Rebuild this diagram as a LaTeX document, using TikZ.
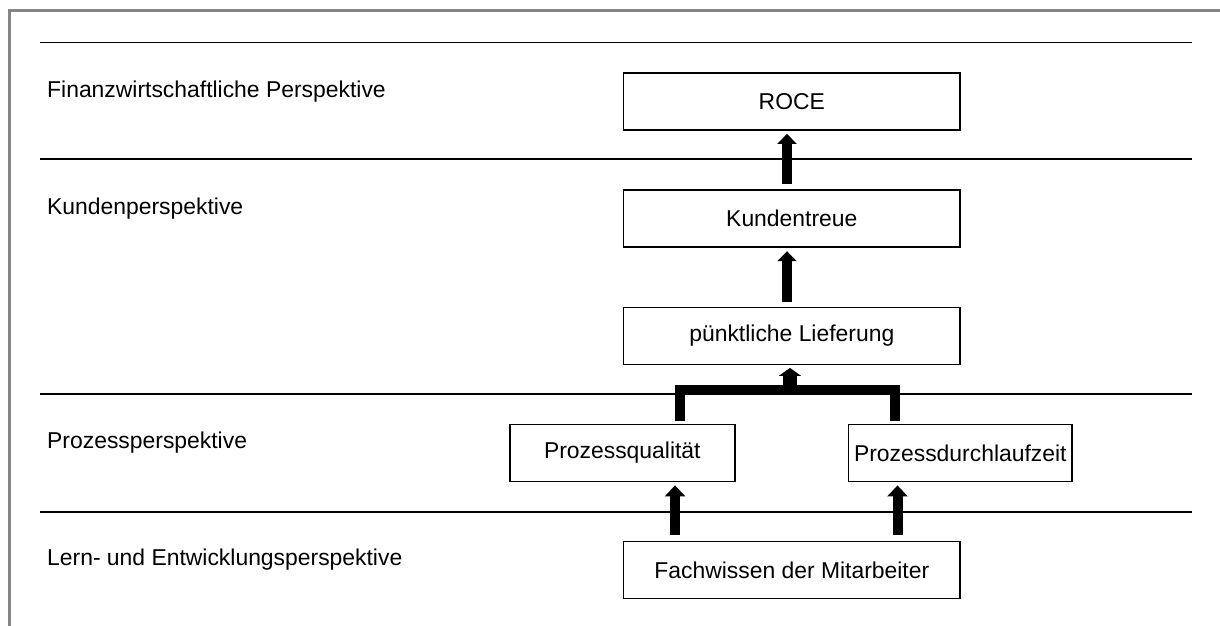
\documentclass[tikz,border=0pt]{standalone}
\usepackage{fontspec}
\setmainfont{Liberation Sans}
\usetikzlibrary{arrows.meta}
\begin{document}
\begin{tikzpicture}[x=1pt,y=-1pt,
  box/.style={draw, line width=1.8pt, rectangle, inner sep=0pt,
    minimum height=57pt, font=\fontsize{22.9}{27}\selectfont},
  level/.style={anchor=base west, inner sep=0pt, font=\fontsize{22.9}{27}\selectfont},
  sep/.style={line width=1.7pt},
  bigarrow/.style={line width=9.5pt, -{Triangle[length=10pt,width=19pt]}},
  midarrow/.style={line width=10pt, -{Triangle[length=11pt,width=20pt]}},
  bracket/.style={line width=10pt, line join=miter, line cap=butt}]
\useasboundingbox (0,0) rectangle (1220,626);
\fill[white] (0,0) rectangle (1220,626);
% outer frame
\draw[line width=3pt, black!48] (9.5,626) -- (9.5,11) -- (1220,11);

% perspective separators
\foreach \y in {42.5,159,394.3,511.7}
  \draw[sep] (40,\y) -- (1192,\y);

% perspective labels
\node[level] (lf) at (47,97) {Finanzwirtschaftliche Perspektive};
\node[level] (lk) at (47,214) {Kundenperspektive};
\node[level] (lp) at (47,448) {Prozessperspektive};
\node[level] (ll) at (47,565) {Lern- und Entwicklungsperspektive};

% goal boxes
\node[box, minimum width=336.5pt] (roce) at (791.8,101.5) {ROCE};
\node[box, minimum width=336.5pt] (kt)   at (791.8,218.8) {Kundentreue};
\node[box, minimum width=336.5pt] (pl)   at (791.8,336)   {pünktliche Lieferung};
\node[box, minimum width=225pt]   (pq)   at (622.3,453)   {Prozessqualität};
\node[box, minimum width=223.5pt] (pd)   at (960.3,453)   {Prozessdurchlaufzeit};
\node[box, minimum width=336.5pt] (fw)   at (791.8,570)   {Fachwissen der Mitarbeiter};

% cause-and-effect arrows
\draw[bigarrow, shorten <=5pt, shorten >=3pt] (kt.north -| 787,0) -- (roce.south -| 787,0);
\draw[bigarrow, shorten <=5pt, shorten >=3pt] (pl.north -| 787,0) -- (kt.south -| 787,0);

\draw[midarrow, shorten <=5.5pt, shorten >=3pt] (fw.north -| 675,0) -- (pq.south -| 675,0);
\draw[midarrow, shorten <=5.5pt, shorten >=3pt] (fw.north -| 897.5,0) -- (pd.south -| 897.5,0);

% joining bracket from the two process goals
\coordinate (jl) at (680,389.5);
\coordinate (jr) at (894.5,389.5);
\coordinate (jm) at (790,389.5);
\draw[bracket, shorten <=3pt, shorten >=3pt] (pq.north -| jl) -- (jl) -- (jr) -- (pd.north -| jr);
\draw[line width=14pt, -{Triangle[length=8pt,width=22pt]}, shorten >=2.5pt] (jm) -- (pl.south -| jm);
\end{tikzpicture}
\end{document}
